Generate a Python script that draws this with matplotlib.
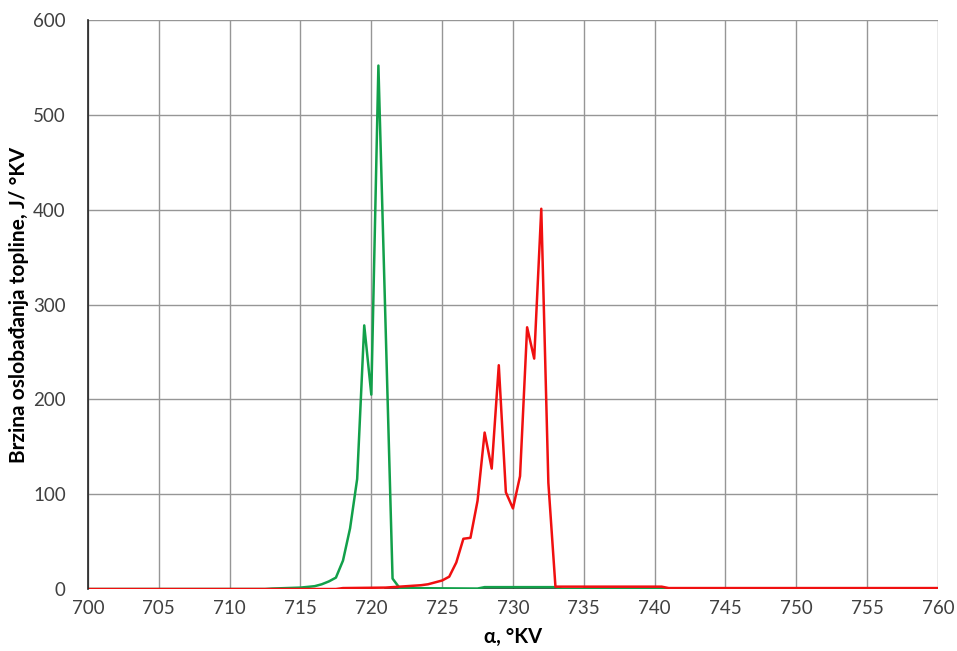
import numpy as np
import matplotlib
matplotlib.use("Agg")
import matplotlib.pyplot as plt

plt.rcParams["font.family"] = ["Lato", "DejaVu Sans"]

# green trace: (angle, value) breakpoints
green_x = [700, 712.5, 713, 714, 715, 716, 716.5, 717, 717.5, 718, 718.5, 719,
           719.5, 720, 720.5, 721.5, 722, 727.5, 728, 733, 733.5, 760]
green_y = [0, 0, 0.5, 1, 1.5, 3, 5, 8, 12, 30, 64, 116,
           278, 205, 552, 11, 1, 0.5, 2, 2, 0, 0]

# red trace
red_x = [700, 717.5, 718, 721, 722, 722.5, 723, 723.5, 724, 724.5, 725, 725.5,
         726, 726.5, 727, 727.5, 728, 728.5, 729, 729.5, 730, 730.5, 731,
         731.5, 732, 732.5, 733, 740.5, 741, 760]
red_y = [0, 0, 1, 1.5, 2.5, 3, 3.5, 4, 5, 7, 9, 13,
         28, 53, 54, 93, 165, 127, 236, 102, 85, 119, 276,
         243, 401, 112, 2.5, 2.5, 1, 1]

# small traces hugging the baseline
black_x = [721, 735]
black_y = [0.5, 0.5]
darkred_x = [735, 750]
darkred_y = [1.5, 1.5]
olive_x = [750, 754]
olive_y = [1.5, 1.5]

x_ticks = np.arange(700, 761, 5)
y_ticks = np.arange(0, 601, 100)

fig = plt.figure(figsize=(9.57, 6.51), dpi=100)
ax = fig.add_axes([0.092, 0.0952, 0.888, 0.874])

ax.plot(black_x, black_y, color="#1a1a1a", lw=1.8)
ax.plot(darkred_x, darkred_y, color="#8b1a1a", lw=1.8)
ax.plot(olive_x, olive_y, color="#9c7a3c", lw=1.8)
ax.plot(green_x, green_y, color="#12a04a", lw=1.8)
ax.plot(red_x, red_y, color="#f01010", lw=1.8)

ax.set_xlim(700, 760)
ax.set_ylim(0, 600)
ax.set_xticks(x_ticks)
ax.set_yticks(y_ticks)
ax.grid(True, color="#969696", lw=1.0)
ax.set_axisbelow(True)
for side in ("top", "right", "bottom"):
    ax.spines[side].set_visible(False)
ax.spines["left"].set_color("#222222")
ax.spines["left"].set_linewidth(1.2)
ax.tick_params(length=0, labelsize=13.5, colors="#404040")
ax.tick_params(axis="y", pad=16)
ax.tick_params(axis="x", pad=8)

ax.set_xlabel("α, °KV", fontsize=14.5, fontweight="bold", labelpad=7)
ax.set_ylabel("Brzina oslobađanja topline, J/ °KV", fontsize=15,
              fontweight="bold", labelpad=3)

fig.savefig("out.png", dpi=100)
